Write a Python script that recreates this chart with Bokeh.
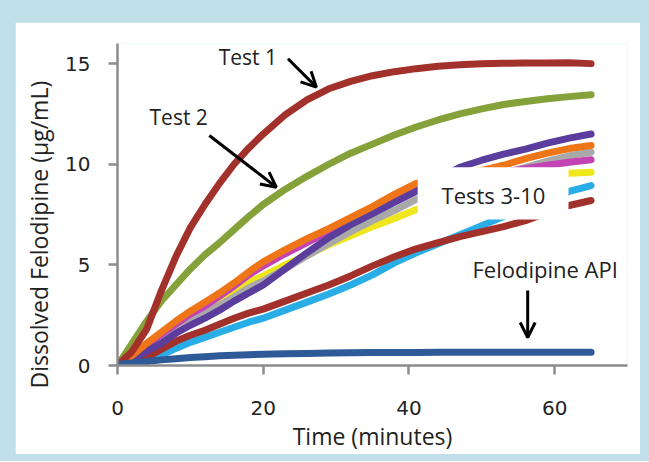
from bokeh.plotting import figure
from bokeh.layouts import column
from bokeh.models import BoxAnnotation, Label, Arrow, OpenHead, FixedTicker, Title
from bokeh.embed import file_html
from bokeh.resources import INLINE

# ---------------- data ----------------
time_min = [0, 2, 4, 6, 8, 10, 12, 14, 16, 18, 20, 23, 26, 29, 32, 35, 38, 41, 44, 47, 50, 53, 56, 59, 62, 65]

test1 = [0, 0.7, 1.8, 3.7, 5.4, 6.85, 8.0, 9.05, 10.0, 10.8, 11.5, 12.45, 13.2, 13.75, 14.12, 14.4,
         14.6, 14.75, 14.87, 14.94, 14.99, 15.02, 15.03, 15.03, 15.04, 15.0]
test2 = [0, 1.1, 2.2, 3.2, 4.0, 4.8, 5.5, 6.1, 6.75, 7.4, 8.0, 8.75, 9.4, 10.0, 10.55, 11.0,
         11.45, 11.85, 12.2, 12.5, 12.75, 12.97, 13.12, 13.25, 13.36, 13.45]
orange = [0, 0.5, 1.1, 1.65, 2.2, 2.7, 3.15, 3.6, 4.1, 4.65, 5.15, 5.75, 6.3, 6.8, 7.35, 7.9,
          8.5, 9.05, 9.3, 9.5, 9.7, 9.95, 10.28, 10.55, 10.78, 10.93]
magenta = [0, 0.45, 1.0, 1.55, 2.05, 2.55, 2.95, 3.45, 3.95, 4.5, 4.95, 5.55, 6.1, 6.65, 7.2, 7.7,
           8.2, 8.7, 9.0, 9.25, 9.45, 9.6, 9.78, 9.95, 10.1, 10.22]
gray = [0, 0.35, 0.85, 1.35, 1.85, 2.25, 2.6, 3.0, 3.4, 3.85, 4.2, 4.8, 5.45, 6.05, 6.65, 7.2,
        7.7, 8.25, 8.6, 8.95, 9.25, 9.55, 9.85, 10.15, 10.42, 10.6]
yellow = [0, 0.4, 0.9, 1.45, 2.0, 2.5, 2.9, 3.3, 3.75, 4.15, 4.45, 5.0, 5.5, 6.0, 6.45, 6.9,
          7.3, 7.75, 8.1, 8.45, 8.75, 9.0, 9.2, 9.4, 9.55, 9.6]
purple = [0, 0.3, 0.7, 1.1, 1.6, 2.0, 2.35, 2.75, 3.2, 3.6, 4.0, 4.8, 5.6, 6.35, 7.0, 7.55,
          8.1, 8.65, 9.3, 9.85, 10.2, 10.5, 10.75, 11.05, 11.3, 11.5]
darkred = [0, 0.1, 0.4, 0.8, 1.2, 1.5, 1.75, 2.05, 2.35, 2.6, 2.8, 3.2, 3.6, 4.0, 4.45, 4.95,
           5.4, 5.8, 6.1, 6.4, 6.65, 6.9, 7.2, 7.6, 7.95, 8.2]
lightblue = [0, 0.05, 0.2, 0.5, 0.85, 1.15, 1.4, 1.65, 1.9, 2.15, 2.35, 2.75, 3.15, 3.55, 4.0, 4.5,
             5.1, 5.6, 6.05, 6.5, 6.95, 7.4, 7.8, 8.25, 8.65, 8.94]
api = [0.05, 0.12, 0.2, 0.28, 0.34, 0.4, 0.44, 0.48, 0.51, 0.54, 0.56, 0.58, 0.6, 0.62, 0.63, 0.64,
       0.65, 0.65, 0.66, 0.66, 0.66, 0.66, 0.66, 0.66, 0.66, 0.66]

x_ticks = [0, 20, 40, 60]
y_ticks = [0, 5, 10, 15]

# ---------------- figure ----------------
p = figure(width=625, height=432, x_range=(0, 70), y_range=(0, 16),
           output_backend="svg", toolbar_location=None,
           min_border_left=101, min_border_right=13, min_border_top=21, min_border_bottom=89)
p.background_fill_color = "white"
p.border_fill_color = "white"
p.outline_line_color = None
p.grid.visible = False

series = [
    (lightblue, "#29ade6"),
    (darkred, "#a3312b"),
    (yellow, "#f0e61c"),
    (gray, "#a9a9a9"),
    (magenta, "#c343b4"),
    (purple, "#5a3d9c"),
    (orange, "#ee7618"),
]
for vals, col in series:
    p.line(time_min, vals, line_color=col, line_width=7, line_cap="round", line_join="round")

# white label box that hides the middle of tests 3-10
p.add_layout(BoxAnnotation(left=41.2, right=61.9, bottom=7.25, top=9.85,
                           fill_color="white", fill_alpha=1.0, line_color=None))

p.line(time_min, test2, line_color="#84a239", line_width=7, line_cap="round", line_join="round")
p.line(time_min, test1, line_color="#a3312b", line_width=7, line_cap="round", line_join="round")
p.line(time_min, api, line_color="#2e5a98", line_width=7, line_cap="round", line_join="round")

# axes
axis_col = "#8c8c8c"
for ax in (p.xaxis[0], p.yaxis[0]):
    ax.axis_line_color = axis_col
    ax.axis_line_width = 2.5
    ax.major_tick_line_color = axis_col
    ax.major_tick_line_width = 2.5
    ax.minor_tick_line_color = None
    ax.major_tick_in = 0
    ax.major_tick_out = 9
    ax.major_label_text_font = "DejaVu Sans"
    ax.major_label_text_font_size = "20px"
    ax.major_label_text_color = "#222222"
    ax.axis_label_text_font = "Open Sans"
    ax.axis_label_text_font_size = "23px"
    ax.axis_label_text_font_style = "normal"
    ax.axis_label_text_color = "#222222"

p.xaxis.ticker = FixedTicker(ticks=x_ticks)
p.yaxis.ticker = FixedTicker(ticks=y_ticks)
p.xaxis.axis_label = "Time (minutes)"
p.xaxis.major_label_standoff = 26
p.xaxis.axis_label_standoff = 2
p.yaxis.major_label_standoff = 18

# y-axis title: a left-side Title, started a little below the frame bottom as in the reference
p.add_layout(Title(text="Dissolved Felodipine (μg/mL)", align="left", vertical_align="middle",
                   offset=-23, standoff=13, text_font="Open Sans", text_font_size="23px",
                   text_font_style="normal", text_color="#222222"), "left")

# annotations
txt = dict(text_font="Open Sans", text_font_size="21px", text_color="#222222",
           text_align="center", text_baseline="middle")
p.add_layout(Label(x=17.9, y=15.33, text="Test 1", **txt))
p.add_layout(Label(x=8.4, y=12.35, text="Test 2", **txt))
p.add_layout(Label(x=51.6, y=8.45, text="Tests 3-10", text_font="Open Sans", text_font_size="22px",
                   text_color="#222222", text_align="center", text_baseline="middle"))
p.add_layout(Label(x=58.7, y=4.79, text="Felodipine API", text_font="Open Sans", text_font_size="22px",
                   text_color="#222222", text_align="center", text_baseline="middle"))

for (x0, y0, x1, y1) in [(23.4, 15.24, 27.3, 13.83), (12.6, 11.43, 21.8, 8.86), (56.3, 3.73, 56.3, 1.39)]:
    p.add_layout(Arrow(x_start=x0, y_start=y0, x_end=x1, y_end=y1, line_color="black", line_width=3,
                       end=OpenHead(size=15, line_color="black", line_width=3)))

layout = column(p, styles={"background-color": "#bfe0e8", "padding": "22px 9px 7px 15px"})

open("out.html", "w").write(file_html(layout, INLINE))
